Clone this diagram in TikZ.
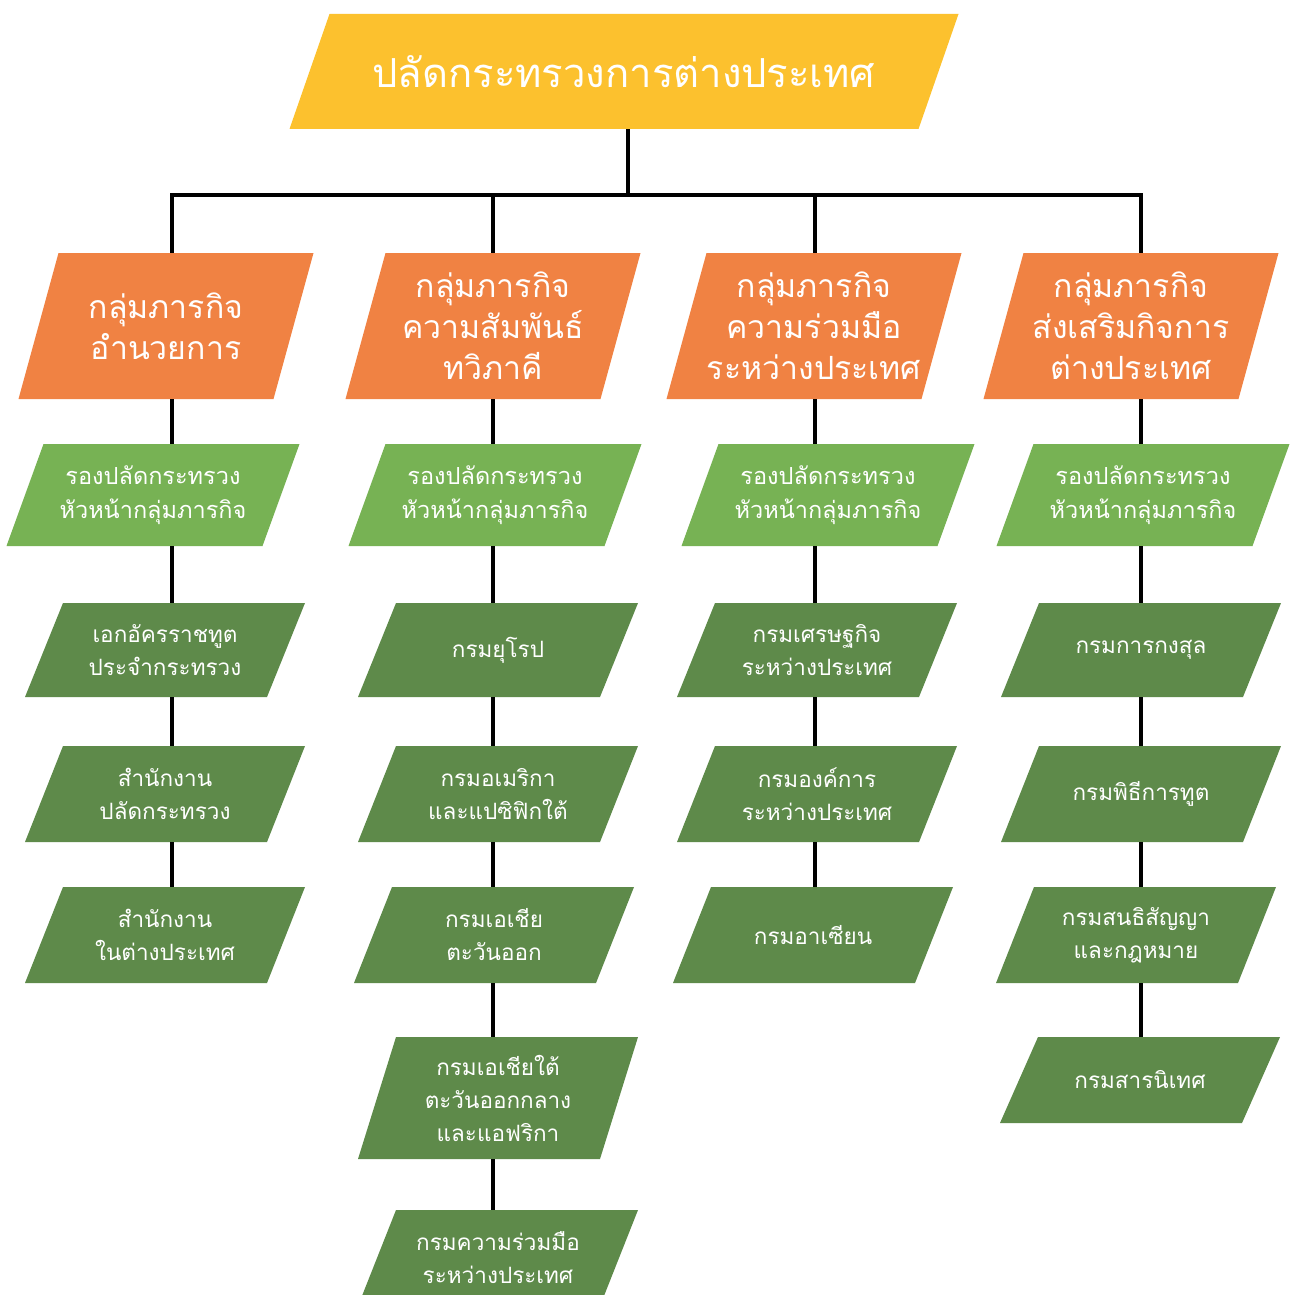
\documentclass[tikz,border=0pt]{standalone}
\usepackage{fontspec}
\newfontfamily\thai[Script=Thai]{Loma}
\definecolor{cyellow}{HTML}{FCC12E}
\definecolor{corange}{HTML}{F08243}
\definecolor{clgreen}{HTML}{77B254}
\definecolor{cdgreen}{HTML}{5E8A4A}
\tikzset{
  txt/.style={text=white, align=center, inner sep=0pt},
  conn/.style={line width=4pt, black},
  ftitle/.style={font=\thai\fontsize{40}{48}\selectfont},
  forange/.style={font=\thai\fontsize{32}{41}\selectfont},
  flgreen/.style={font=\thai\fontsize{23.5}{34}\selectfont},
  fdgreen/.style={font=\thai\fontsize{22.5}{33}\selectfont},
}
\newcommand\pbox[9]{%
  \fill[#7] ({#2-#4/2+#6/2},{#3-#5/2}) -- ({#2+#4/2+#6/2},{#3-#5/2}) -- ({#2+#4/2-#6/2},{#3+#5/2}) -- ({#2-#4/2-#6/2},{#3+#5/2}) -- cycle;
  \node[txt,#8,minimum width=#4pt,minimum height=#5pt] (#1) at (#2,#3) {#9};}
\begin{document}
\begin{tikzpicture}[x=1pt,y=-1pt]
\useasboundingbox (0,0) rectangle (1290,1295);
\fill[white] (0,0) rectangle (1290,1295);
% bus coordinates
\coordinate (trunk) at (628,195);
\coordinate (b1) at (172,195);
\coordinate (b2) at (493,195);
\coordinate (b3) at (815,195);
\coordinate (b4) at (1141,195);
% boxes
\pbox{top}{624}{71.5}{629}{115}{40}{cyellow}{ftitle}{ปลัดกระทรวงการต่างประเทศ}
\pbox{o1}{166}{326}{255}{146}{40}{corange}{forange}{กลุ่มภารกิจ\\อำนวยการ}
\pbox{o2}{493}{326}{255}{146}{40}{corange}{forange}{กลุ่มภารกิจ\\ความสัมพันธ์\\ทวิภาคี}
\pbox{o3}{814}{326}{255}{146}{40}{corange}{forange}{กลุ่มภารกิจ\\ความร่วมมือ\\ระหว่างประเทศ}
\pbox{o4}{1131}{326}{255}{146}{40}{corange}{forange}{กลุ่มภารกิจ\\ส่งเสริมกิจการ\\ต่างประเทศ}
\pbox{g1}{153}{495}{256}{102}{37}{clgreen}{flgreen}{รองปลัดกระทรวง\\หัวหน้ากลุ่มภารกิจ}
\pbox{g2}{495}{495}{256}{102}{37}{clgreen}{flgreen}{รองปลัดกระทรวง\\หัวหน้ากลุ่มภารกิจ}
\pbox{g3}{828}{495}{256}{102}{37}{clgreen}{flgreen}{รองปลัดกระทรวง\\หัวหน้ากลุ่มภารกิจ}
\pbox{g4}{1143}{495}{256}{102}{37}{clgreen}{flgreen}{รองปลัดกระทรวง\\หัวหน้ากลุ่มภารกิจ}
% column 1
\pbox{d11}{165}{650}{242}{94}{38}{cdgreen}{fdgreen}{เอกอัครราชทูต\\ประจำกระทรวง}
\pbox{d12}{165}{794}{242}{96}{38}{cdgreen}{fdgreen}{สำนักงาน\\ปลัดกระทรวง}
\pbox{d13}{165}{935}{242}{96}{38}{cdgreen}{fdgreen}{สำนักงาน\\ในต่างประเทศ}
% column 2
\pbox{d21}{498}{650}{242}{94}{38}{cdgreen}{fdgreen}{กรมยุโรป}
\pbox{d22}{498}{794}{242}{96}{38}{cdgreen}{fdgreen}{กรมอเมริกา\\และแปซิฟิกใต้}
\pbox{d23}{494}{935}{242}{96}{38}{cdgreen}{fdgreen}{กรมเอเชีย\\ตะวันออก}
\pbox{d24}{498}{1098}{242}{122}{38}{cdgreen}{fdgreen}{กรมเอเชียใต้\\ตะวันออกกลาง\\และแอฟริกา}
\pbox{d25}{498}{1258}{242}{96}{38}{cdgreen}{fdgreen}{กรมความร่วมมือ\\ระหว่างประเทศ}
% column 3
\pbox{d31}{817}{650}{242}{94}{38}{cdgreen}{fdgreen}{กรมเศรษฐกิจ\\ระหว่างประเทศ}
\pbox{d32}{817}{794}{242}{96}{38}{cdgreen}{fdgreen}{กรมองค์การ\\ระหว่างประเทศ}
\pbox{d33}{813}{935}{242}{96}{38}{cdgreen}{fdgreen}{กรมอาเซียน}
% column 4
\pbox{d41}{1141}{650}{242}{94}{38}{cdgreen}{fdgreen}{กรมการกงสุล}
\pbox{d42}{1141}{794}{242}{96}{38}{cdgreen}{fdgreen}{กรมพิธีการทูต}
\pbox{d43}{1136}{935}{242}{96}{38}{cdgreen}{fdgreen}{กรมสนธิสัญญา\\และกฎหมาย}
\pbox{d44}{1140}{1080}{242}{86}{38}{cdgreen}{fdgreen}{กรมสารนิเทศ}
% connectors
\draw[conn] (trunk |- top.south) -- (trunk);
\draw[conn] (b1 |- o1.north) -- (b1) -- (b4) -- (b4 |- o4.north);
\draw[conn] (b2) -- (b2 |- o2.north);
\draw[conn] (b3) -- (b3 |- o3.north);
\foreach \c/\a/\b in {1/o1/g1,1/g1/d11,1/d11/d12,1/d12/d13,
                     2/o2/g2,2/g2/d21,2/d21/d22,2/d22/d23,2/d23/d24,2/d24/d25,
                     3/o3/g3,3/g3/d31,3/d31/d32,3/d32/d33,
                     4/o4/g4,4/g4/d41,4/d41/d42,4/d42/d43,4/d43/d44}
  \draw[conn] (\a.south -| b\c) -- (\b.north -| b\c);
\end{tikzpicture}
\end{document}
